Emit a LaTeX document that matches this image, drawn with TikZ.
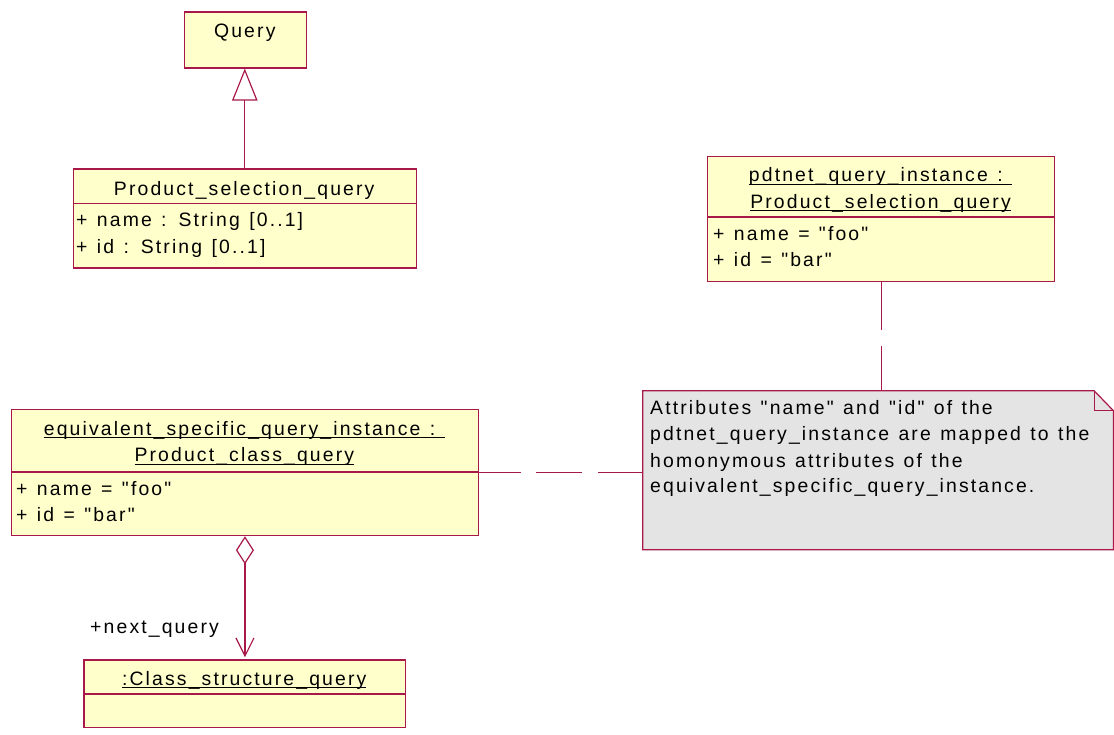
\documentclass[tikz,border=0pt]{standalone}
\usepackage{fontspec}
\setmainfont{Liberation Sans}[LetterSpace=11, WordSpace=1.25, Ligatures=TeXOff]
\usetikzlibrary{arrows.meta}
\definecolor{crim}{RGB}{168,24,72}
\definecolor{yel}{RGB}{255,255,204}
\definecolor{notegray}{RGB}{228,228,228}
\newcommand\myul[1]{\setbox0\hbox{#1}\rlap{\rule[-3pt]{\wd0}{1pt}}\box0}
\newcommand\fs{\fontsize{19.4}{26}\selectfont}
\begin{document}
\begin{tikzpicture}[x=1pt,y=-1pt,
  umlbox/.style={draw=crim, fill=yel, line width=1.2pt, inner sep=0, anchor=north west},
  ttl/.style={inner sep=0, anchor=base, font=\fs},
  txt/.style={inner sep=0, anchor=base west, font=\fs},
  conn/.style={draw=crim, line width=1.2pt}]
\useasboundingbox (0,0) rectangle (1114,734);

% Query
\node[umlbox, minimum width=122.3, minimum height=56] (query) at (183.7,11.3) {};
\node[ttl] (queryT) at (244.8,37.7) {Query};

% Product_selection_query
\node[umlbox, minimum width=343, minimum height=99] (psq) at (72.7,168.3) {};
\draw[conn] (72.7,203.3) -- (415.7,203.3);
\node[ttl] (psqT) at (244.2,195) {Product\_selection\_query};
\node[txt] (psqA1) at (76,226) {+ name : String [0..1]};
\node[txt] (psqA2) at (76,253) {+ id : String [0..1]};

% generalization
\draw[conn, -{Triangle[open, width=25.3, length=32]}] (psq.north) -- (psq.north |- query.south);

% pdtnet instance
\node[umlbox, minimum width=347, minimum height=125] (pdt) at (707,156) {};
\draw[conn] (707,217) -- (1054,217);
\node[ttl] (pdtT1) at (880.5,181.7) {\myul{pdtnet\_query\_instance :\ }};
\node[ttl] (pdtT2) at (880.5,208) {\myul{Product\_selection\_query}};
\node[txt] (pdtA1) at (713,240) {+ name = "foo"};
\node[txt] (pdtA2) at (713,266) {+ id = "bar"};

% note
\node[inner sep=0, minimum width=470.3, minimum height=158.6, anchor=north west] (note) at (642.7,390.7) {};
\draw[conn, fill=notegray] (note.north west) -- ([xshift=-19.3]note.north east) -- ([yshift=-20]note.north east) -- (note.south east) -- (note.south west) -- cycle;
\draw[conn] ([xshift=-19.3]note.north east) |- ([yshift=-20]note.north east);
\node[txt] (noteL1) at (650,414) {Attributes "name" and "id" of the};
\node[txt] (noteL2) at (650,440) {pdtnet\_query\_instance are mapped to the};
\node[txt] (noteL3) at (650,467) {homonymous attributes of the};
\node[txt] (noteL4) at (650,492) {equivalent\_specific\_query\_instance.};

% equivalent instance
\node[umlbox, minimum width=467.3, minimum height=126] (esq) at (10.7,409) {};
\draw[conn] (10.7,472) -- (478,472);
\node[ttl] (esqT1) at (244.3,435) {\myul{equivalent\_specific\_query\_instance :\ }};
\node[ttl] (esqT2) at (244.3,461.7) {\myul{Product\_class\_query}};
\node[txt] (esqA1) at (16,495) {+ name = "foo"};
\node[txt] (esqA2) at (16,521) {+ id = "bar"};

% class structure query
\node[umlbox, minimum width=321.7, minimum height=67.3] (cls) at (83.3,659.3) {};
\draw[conn] (83.3,694) -- (405,694);
\node[ttl] (clsT) at (244.2,685) {\myul{:Class\_structure\_query}};

% dashed connectors to note
\draw[conn, dash pattern=on 48 off 16] (pdt.south) -- (pdt.south |- note.north);
\draw[conn, dash pattern=on 42 off 15 on 46 off 16 on 50 off 10] (esq.east) -- (esq.east -| note.west);

% aggregation
\draw[conn, {Diamond[open, length=28, width=18]}-{Straight Barb[length=18, width=18]}, shorten >=2] (esq.south) -- (esq.south |- cls.north);
\node[txt] (role) at (90,633) {+next\_query};
\end{tikzpicture}
\end{document}
